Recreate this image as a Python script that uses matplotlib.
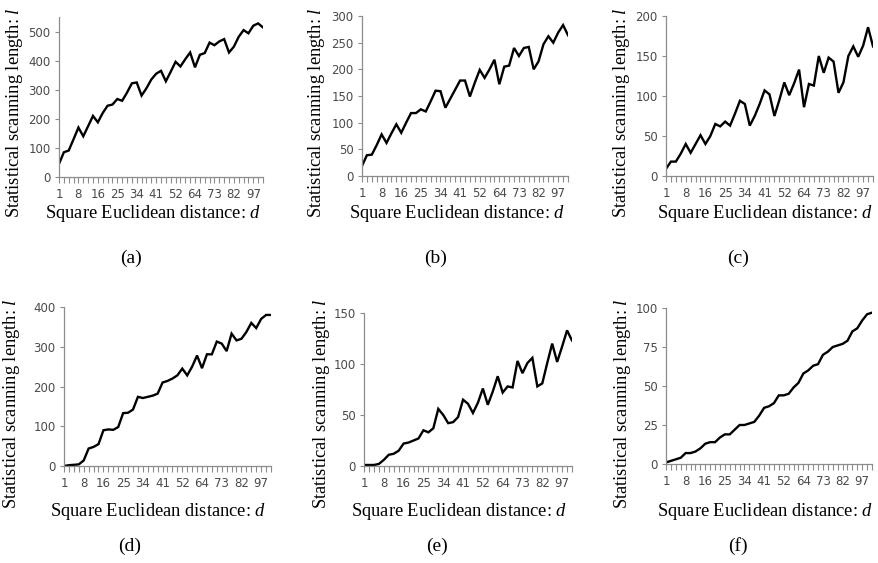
import matplotlib
matplotlib.use("Agg")
import matplotlib.pyplot as plt

plt.rcParams["mathtext.fontset"] = "custom"
plt.rcParams["mathtext.it"] = "Liberation Serif:italic"
plt.rcParams["mathtext.rm"] = "Liberation Serif"

# squared distances (sums of two squares) used as categories
distances = [1, 2, 4, 5, 8, 9, 10, 13, 16, 17, 18, 20, 25, 26, 29, 32, 34, 36, 37, 40,
             41, 45, 49, 50, 52, 53, 58, 61, 64, 65, 68, 72, 73, 74, 80, 81, 82, 85, 89, 90,
             97, 98, 100]

len_a = [45, 85, 91, 130, 170, 140, 175, 210, 188, 220, 245, 249, 268, 262, 290, 322, 325, 280,
         305, 335, 355, 365, 329, 362, 396, 380, 405, 428, 377, 420, 426, 462, 453, 466, 474,
         428, 448, 482, 505, 494, 520, 528, 514]
len_b = [19, 39, 40, 58, 78, 62, 80, 97, 81, 100, 118, 118, 125, 121, 140, 160, 159, 128, 145,
         162, 179, 179, 149, 175, 199, 184, 200, 218, 172, 205, 207, 240, 225, 240, 242, 200,
         215, 247, 262, 250, 269, 283, 264]
len_c = [9, 18, 18, 28, 40, 29, 40, 51, 40, 50, 65, 62, 68, 63, 78, 94, 90, 63, 75, 90, 107,
         102, 75, 95, 117, 101, 116, 133, 86, 115, 113, 150, 129, 148, 143, 104, 117, 150, 162,
         149, 163, 186, 162]
len_d = [0, 2, 3, 4, 14, 44, 48, 55, 90, 92, 91, 98, 133, 134, 142, 174, 171, 174, 177, 182,
         210, 214, 220, 228, 245, 228, 250, 278, 246, 281, 281, 313, 308, 289, 333, 316, 320,
         337, 360, 347, 370, 380, 380]
len_e = [1, 1, 1, 2, 6, 11, 12, 15, 22, 23, 25, 27, 35, 33, 37, 56, 50, 42, 43, 48, 65, 61, 52,
         62, 76, 60, 73, 88, 72, 78, 77, 103, 91, 101, 106, 78, 81, 101, 120, 102, 117, 133, 123]
len_f = [1, 2, 3, 4, 7, 7, 8, 10, 13, 14, 14, 17, 19, 19, 22, 25, 25, 26, 27, 31, 36, 37, 39,
         44, 44, 45, 49, 52, 58, 60, 63, 64, 70, 72, 75, 76, 77, 79, 85, 87, 92, 96, 97]

panels = [
    # series, ylim top, ytick step, caption,
    # axes box px (left, bottom, right, top), xlabel centre px, ylabel centre px, caption px
    (len_a, 550, 100, "(a)", (59, 177, 263, 17), (153, 213), (15, 113), (131, 258)),
    (len_b, 300, 50, "(b)", (362, 176, 568, 16), (457, 213), (317, 113), (436, 258)),
    (len_c, 200, 50, "(c)", (666, 176, 873, 16), (765, 213), (622, 113), (738, 258)),
    (len_d, 400, 100, "(d)", (64, 466, 271, 307), (158, 511), (12, 404), (130, 546)),
    (len_e, 150, 50, "(e)", (364, 466, 572, 313), (459, 511), (322, 404), (437, 546)),
    (len_f, 100, 25, "(f)", (666, 464, 872, 308), (765, 511), (623, 404), (738, 546)),
]

W, H = 879, 563
fig = plt.figure(figsize=(W / 100, H / 100), dpi=100)

axis_gray = "#8c8c8c"
label_gray = "#4a4a4a"
serif = "Liberation Serif"

for series, ymax, step, caption, (l, b, r, t), (xlx, xly), (ylx, yly), (cx, cy) in panels:
    ax = fig.add_axes([l / W, 1 - b / H, (r - l) / W, (b - t) / H])
    x = list(range(len(distances)))
    ax.plot(x, series, color="black", lw=1.7, solid_joinstyle="miter")
    ax.set_xlim(0, len(distances) - 1)
    ax.set_ylim(0, ymax)
    ax.set_yticks(list(range(0, ymax + 1, step)))
    ax.set_xticks(x[::4])
    ax.set_xticklabels([str(d) for d in distances[::4]])
    ax.set_xticks(x, minor=True)
    for s in ["top", "right"]:
        ax.spines[s].set_visible(False)
    for s in ["left", "bottom"]:
        ax.spines[s].set_color(axis_gray)
        ax.spines[s].set_linewidth(0.9)
    ax.tick_params(axis="both", which="both", color=axis_gray, width=0.8,
                   labelsize=8.5, labelcolor=label_gray, direction="out")
    ax.tick_params(axis="x", which="both", length=4, pad=4)
    ax.tick_params(axis="y", length=3, pad=3)
    ax.patch.set_alpha(0)

    # axis titles placed where the reference has them
    fig.text(xlx / W, 1 - xly / H, "Square Euclidean distance: $d$", ha="center", va="center",
             fontfamily=serif, fontsize=13.3)
    fig.text(ylx / W, 1 - yly / H, "Statistical scanning length: $l$", ha="center", va="center",
             rotation=90, fontfamily=serif, fontsize=13.3)
    fig.text(cx / W, 1 - cy / H, caption, ha="center", va="center",
             fontfamily=serif, fontsize=14)

fig.savefig("out.png", dpi=100)
